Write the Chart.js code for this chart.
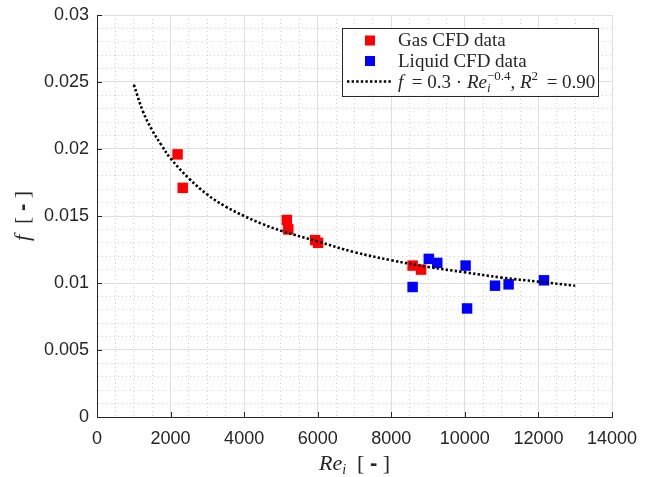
<!DOCTYPE html>
<html><head><meta charset="utf-8">
<script src="https://cdn.jsdelivr.net/npm/chart.js@4/dist/chart.umd.min.js"></script>
<style>html,body{margin:0;padding:0;background:#fff}#wrap{width:652px;height:477px}</style>
</head><body><div id="wrap"><canvas id="c" width="652" height="477"></canvas></div>
<script>
// ---- data ----
const gasRe = [2190, 2330, 5160, 5200, 5930, 6010, 8580, 8810];
const gasF  = [0.0196, 0.0171, 0.0147, 0.0140, 0.0132, 0.0130, 0.0113, 0.0110];
const liqRe = [8580, 9020, 9250, 10020, 10060, 10820, 11190, 12150];
const liqF  = [0.0097, 0.0118, 0.0115, 0.0113, 0.0081, 0.0098, 0.0099, 0.0102];
const fitRe = [1000, 1250, 1500, 1750, 2000, 2500, 3000, 3500, 4000, 4500, 5000, 6000, 7000, 8000, 9000, 10000, 11000, 12000, 13000];
const fitF  = [0.0248, 0.0228, 0.0214, 0.0203, 0.0193, 0.0178, 0.0166, 0.0157, 0.0150, 0.0144, 0.0139, 0.0131, 0.0123, 0.0117, 0.0112, 0.0108, 0.0104, 0.0101, 0.0098];
const xTickLabels = ['0', '2000', '4000', '6000', '8000', '10000', '12000', '14000'];
const yTickLabels = ['0', '0.005', '0.01', '0.015', '0.02', '0.025', '0.03'];
const seriesLabels = ['Gas CFD data', 'Liquid CFD data', 'f = 0.3 · Re_i^-0.4, R^2 = 0.90'];

const INK = '#262626';
const SERIF = '"Liberation Serif", "Times New Roman", serif';
const SANS = '"Liberation Sans", Arial, Helvetica, sans-serif';

const xMajor = v => xTickLabels.includes(String(Math.round(v)));
const yLab = v => String(parseFloat(v.toFixed(3)));
const yMajor = v => yTickLabels.includes(yLab(v));

function drawRich(ctx, segs, x, y, align) {
  let W = 0;
  for (const s of segs) { ctx.font = s.font; s.w = ctx.measureText(s.text).width; if (!s.noAdv) W += s.w; }
  let cx = align === 'center' ? x - W / 2 : x;
  ctx.textBaseline = 'alphabetic';
  ctx.textAlign = 'left';
  for (const s of segs) {
    ctx.font = s.font;
    ctx.fillText(s.text, cx, y + (s.dy || 0));
    if (!s.noAdv) cx += s.w;
  }
}

const decor = {
  id: 'decor',
  afterDraw(chart) {
    const {ctx, chartArea: ca, scales} = chart;
    ctx.save();
    // inward ticks
    ctx.strokeStyle = INK; ctx.lineWidth = 1;
    xTickLabels.forEach(l => {
      const px = Math.round(scales.x.getPixelForValue(Number(l))) + 0.5;
      ctx.beginPath(); ctx.moveTo(px, ca.bottom); ctx.lineTo(px, ca.bottom - 5); ctx.stroke();
    });
    yTickLabels.forEach(l => {
      const py = Math.round(scales.y.getPixelForValue(Number(l))) + 0.5;
      ctx.beginPath(); ctx.moveTo(ca.left, py); ctx.lineTo(ca.left + 5, py); ctx.stroke();
    });
    ctx.fillStyle = INK;
    // x title
    drawRich(ctx, [
      {text: 'Re', font: 'italic 22px ' + SERIF},
      {text: 'i', font: 'italic 14px ' + SERIF, dy: 4},
      {text: '  [ ', font: '22px ' + SERIF},
      {text: '-', font: 'bold 22px ' + SANS},
      {text: ' ]', font: '22px ' + SERIF}
    ], (ca.left + ca.right) / 2, 470, 'center');
    // y title
    ctx.save();
    ctx.translate(29, (ca.top + ca.bottom) / 2);
    ctx.rotate(-Math.PI / 2);
    drawRich(ctx, [
      {text: 'f', font: 'italic 22px ' + SERIF},
      {text: '  [ ', font: '22px ' + SERIF},
      {text: '-', font: 'bold 22px ' + SANS},
      {text: ' ]', font: '22px ' + SERIF}
    ], 0, 0, 'center');
    ctx.restore();
    // legend
    const L = ca.right - 14 - 256, T = ca.top + 12.5, W = 256, H = 68;
    ctx.fillStyle = '#fff'; ctx.fillRect(L, T, W, H);
    ctx.strokeStyle = INK; ctx.lineWidth = 1;
    ctx.strokeRect(Math.round(L) + 0.5, Math.round(T) + 0.5, W, H);
    const ds = chart.data.datasets;
    const rows = [T + 13, T + 33.5, T + 54];
    const textX = L + 56;
    [1, 2].forEach((di, r) => {
      ctx.fillStyle = ds[di].backgroundColor;
      ctx.fillRect(L + 23, rows[r] - 5, 10, 10);
      ctx.fillStyle = INK;
      ctx.font = '19px ' + SERIF; ctx.textAlign = 'left'; ctx.textBaseline = 'middle';
      ctx.fillText(ds[di].label, textX, rows[r] + 1);
    });
    ctx.strokeStyle = ds[0].borderColor; ctx.lineWidth = ds[0].borderWidth;
    ctx.setLineDash(ds[0].borderDash);
    ctx.beginPath(); ctx.moveTo(L + 5, rows[2]); ctx.lineTo(L + 51, rows[2]); ctx.stroke();
    ctx.setLineDash([]);
    ctx.fillStyle = INK;
    const b = rows[2] + 6;
    drawRich(ctx, [
      {text: 'f', font: 'italic 19px ' + SERIF},
      {text: '\u2009 = 0.3 · ', font: '19px ' + SERIF},
      {text: 'Re', font: 'italic 19px ' + SERIF},
      {text: 'i', font: 'italic 13px ' + SERIF, dy: 4, noAdv: true},
      {text: '−0.4', font: '13px ' + SERIF, dy: -8},
      {text: ', ', font: '19px ' + SERIF},
      {text: 'R', font: 'italic 19px ' + SERIF},
      {text: '2', font: '13px ' + SERIF, dy: -8},
      {text: '\u2009 = 0.90', font: '19px ' + SERIF}
    ], textX, b, 'left');
    ctx.restore();
  }
};

new Chart(document.getElementById('c'), {
  type: 'scatter',
  data: {
    datasets: [
      {
        type: 'line', label: seriesLabels[2],
        data: fitRe.map((x, i) => ({x, y: fitF[i]})),
        borderColor: '#000', borderWidth: 2.6, borderDash: [2.4, 2.2],
        pointRadius: 0, fill: false, tension: 0.4, order: 0
      },
      {
        label: seriesLabels[0],
        data: gasRe.map((x, i) => ({x, y: gasF[i]})),
        backgroundColor: '#ff0000', borderColor: '#ff0000', borderWidth: 0,
        pointStyle: 'rect', pointRadius: 7.4, pointHoverRadius: 7.4, order: 1
      },
      {
        label: seriesLabels[1],
        data: liqRe.map((x, i) => ({x, y: liqF[i]})),
        backgroundColor: '#0000ff', borderColor: '#0000ff', borderWidth: 0,
        pointStyle: 'rect', pointRadius: 7.4, pointHoverRadius: 7.4, order: 2
      }
    ]
  },
  options: {
    responsive: false, animation: false, devicePixelRatio: 1,
    layout: {padding: {left: 0, right: 40, top: 15, bottom: 0}},
    plugins: {legend: {display: false}, tooltip: {enabled: false}},
    scales: {
      x: {
        type: 'linear', min: 0, max: 14000,
        ticks: {
          stepSize: 500, autoSkip: false, maxRotation: 0, padding: 11,
          color: INK, font: {family: SANS, size: 18},
          callback: v => xMajor(v) ? String(Math.round(v)) : ''
        },
        grid: {
          drawTicks: false, lineWidth: 1,
          color: c => (c.tick && xMajor(c.tick.value)) ? '#dedede' : '#d2d2d2'
        },
        border: {
          display: true, color: INK, width: 1,
          dash: c => (c.tick && !xMajor(c.tick.value)) ? [1, 3] : []
        },
        afterFit: s => { s.height = 60; }
      },
      y: {
        type: 'linear', min: 0, max: 0.03,
        ticks: {
          stepSize: 0.001, autoSkip: false, padding: 8,
          color: INK, font: {family: SANS, size: 18},
          callback: v => yMajor(v) ? yLab(v) : ''
        },
        grid: {
          drawTicks: false, lineWidth: 1,
          color: c => (c.tick && yMajor(c.tick.value)) ? '#dedede' : '#d2d2d2'
        },
        border: {
          display: true, color: INK, width: 1,
          dash: c => (c.tick && !yMajor(c.tick.value)) ? [1, 3] : []
        },
        afterFit: s => { s.width = 97; s.paddingTop = 0; s.paddingBottom = 0; }
      }
    }
  },
  plugins: [decor]
});
</script>
</body></html>
